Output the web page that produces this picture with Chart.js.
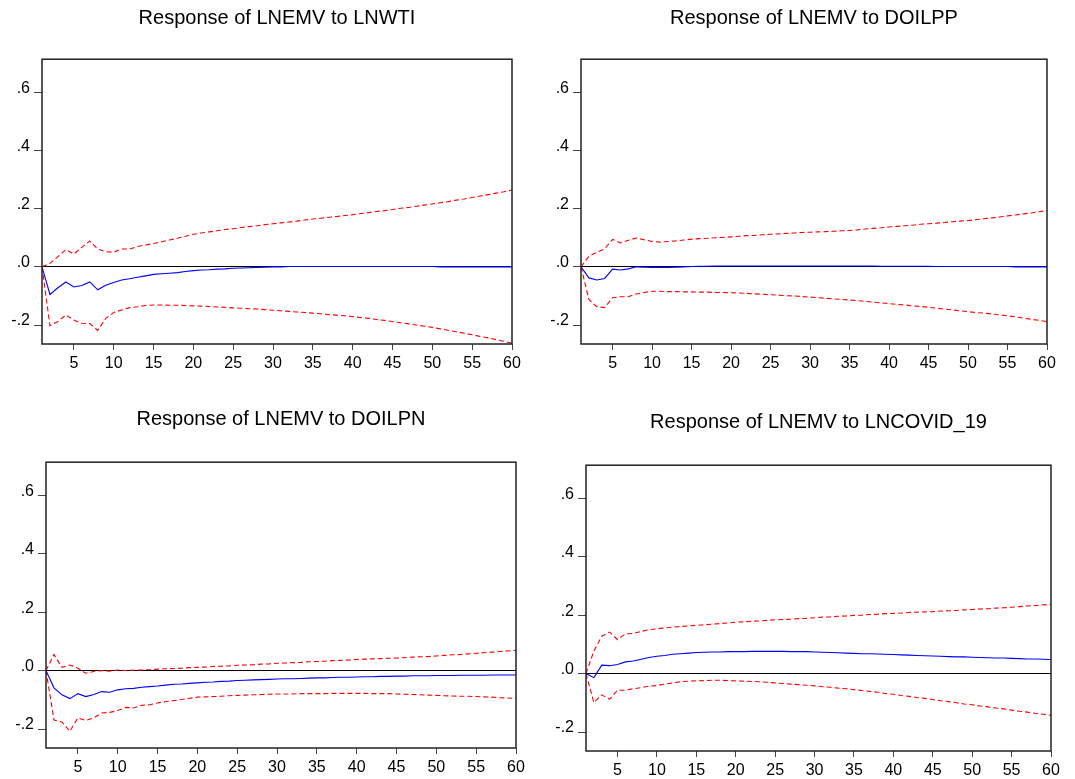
<!DOCTYPE html>
<html>
<head>
<meta charset="utf-8">
<script src="https://cdn.jsdelivr.net/npm/chart.js@4/dist/chart.umd.min.js"></script>
<style>
  html, body { margin: 0; padding: 0; background: #fff; overflow: hidden; }
  body { width: 1075px; height: 779px; position: relative; }
  .panel { position: absolute; }
</style>
</head>
<body>
<div class="panel" id="p0"><canvas id="c0"></canvas></div>
<div class="panel" id="p1"><canvas id="c1"></canvas></div>
<div class="panel" id="p2"><canvas id="c2"></canvas></div>
<div class="panel" id="p3"><canvas id="c3"></canvas></div>
<script>
// periods 1..60 (x axis)
const periods = Array.from({ length: 60 }, (_, i) => i + 1);
const xTicks = [5, 10, 15, 20, 25, 30, 35, 40, 45, 50, 55, 60];
const yTicks = [-0.2, 0, 0.2, 0.4, 0.6];
const yTickLabels = ['-.2', '.0', '.2', '.4', '.6'];

const titles = [
  'Response of LNEMV to LNWTI',
  'Response of LNEMV to DOILPP',
  'Response of LNEMV to DOILPN',
  'Response of LNEMV to LNCOVID_19'
];

// LNWTI
const respWTI = [0, -0.095, -0.072, -0.052, -0.069, -0.064, -0.052, -0.079, -0.063, -0.054,
  -0.045, -0.041, -0.036, -0.031, -0.026, -0.024, -0.022, -0.020, -0.016, -0.013,
  -0.011, -0.010, -0.008, -0.007, -0.005, -0.004, -0.003, -0.002, -0.001, 0.000,
  0.000, 0.001, 0.001, 0.001, 0.001, 0.001, 0.001, 0.001, 0.001, 0.001,
  0.001, 0.001, 0.001, 0.001, 0.001, 0.001, 0.001, 0.001, 0.001, 0.001,
  0.000, 0.000, 0.000, 0.000, 0.000, 0.000, 0.000, 0.000, 0.000, 0.000];
const upperWTI = [0, 0.012, 0.035, 0.059, 0.044, 0.067, 0.089, 0.061, 0.052, 0.050,
  0.061, 0.061, 0.070, 0.075, 0.080, 0.086, 0.092, 0.098, 0.105, 0.112,
  0.116, 0.120, 0.124, 0.128, 0.131, 0.135, 0.138, 0.141, 0.145, 0.148,
  0.151, 0.154, 0.157, 0.161, 0.164, 0.167, 0.170, 0.173, 0.176, 0.179,
  0.183, 0.186, 0.190, 0.193, 0.197, 0.201, 0.204, 0.208, 0.212, 0.216,
  0.220, 0.224, 0.229, 0.233, 0.238, 0.243, 0.248, 0.253, 0.258, 0.264];
const lowerWTI = [0, -0.202, -0.188, -0.165, -0.183, -0.194, -0.195, -0.218, -0.177, -0.157,
  -0.148, -0.140, -0.137, -0.133, -0.131, -0.131, -0.132, -0.132, -0.133, -0.134,
  -0.135, -0.136, -0.138, -0.139, -0.141, -0.142, -0.144, -0.145, -0.147, -0.149,
  -0.151, -0.153, -0.155, -0.157, -0.159, -0.161, -0.164, -0.166, -0.168, -0.171,
  -0.174, -0.177, -0.181, -0.184, -0.188, -0.192, -0.196, -0.200, -0.204, -0.208,
  -0.213, -0.218, -0.223, -0.228, -0.233, -0.239, -0.244, -0.250, -0.256, -0.262];

// DOILPP
const respPP = [0, -0.038, -0.045, -0.040, -0.008, -0.011, -0.007, 0.000, -0.001, -0.002,
  -0.002, -0.002, -0.001, 0.000, 0.001, 0.002, 0.002, 0.003, 0.003, 0.003,
  0.003, 0.003, 0.003, 0.003, 0.003, 0.003, 0.003, 0.003, 0.003, 0.003,
  0.003, 0.003, 0.003, 0.003, 0.003, 0.003, 0.003, 0.003, 0.002, 0.002,
  0.002, 0.002, 0.002, 0.002, 0.002, 0.001, 0.001, 0.001, 0.001, 0.001,
  0.001, 0.001, 0.001, 0.001, 0.001, 0.000, 0.000, 0.000, 0.000, 0.000];
const upperPP = [0, 0.036, 0.050, 0.062, 0.094, 0.082, 0.091, 0.099, 0.093, 0.087,
  0.085, 0.087, 0.089, 0.092, 0.095, 0.097, 0.098, 0.100, 0.101, 0.103,
  0.105, 0.107, 0.108, 0.110, 0.112, 0.113, 0.115, 0.116, 0.118, 0.119,
  0.120, 0.121, 0.122, 0.124, 0.125, 0.127, 0.130, 0.132, 0.134, 0.137,
  0.139, 0.141, 0.143, 0.146, 0.148, 0.150, 0.152, 0.155, 0.157, 0.159,
  0.162, 0.165, 0.168, 0.171, 0.175, 0.178, 0.182, 0.185, 0.189, 0.193];
const lowerPP = [0, -0.112, -0.137, -0.140, -0.106, -0.103, -0.103, -0.093, -0.088, -0.084,
  -0.084, -0.085, -0.085, -0.086, -0.086, -0.087, -0.087, -0.088, -0.088, -0.089,
  -0.090, -0.091, -0.093, -0.094, -0.096, -0.097, -0.099, -0.100, -0.102, -0.104,
  -0.106, -0.108, -0.110, -0.112, -0.114, -0.116, -0.119, -0.121, -0.124, -0.126,
  -0.129, -0.131, -0.134, -0.136, -0.139, -0.142, -0.145, -0.148, -0.151, -0.154,
  -0.157, -0.159, -0.162, -0.165, -0.168, -0.172, -0.176, -0.180, -0.184, -0.188];

// DOILPN
const respPN = [0, -0.059, -0.083, -0.096, -0.079, -0.089, -0.082, -0.072, -0.074, -0.066,
  -0.062, -0.061, -0.057, -0.055, -0.053, -0.050, -0.047, -0.046, -0.044, -0.042,
  -0.040, -0.039, -0.037, -0.036, -0.034, -0.033, -0.032, -0.031, -0.030, -0.029,
  -0.028, -0.028, -0.027, -0.026, -0.025, -0.025, -0.024, -0.023, -0.023, -0.022,
  -0.021, -0.021, -0.020, -0.020, -0.019, -0.019, -0.018, -0.018, -0.018, -0.017,
  -0.017, -0.017, -0.016, -0.016, -0.016, -0.016, -0.015, -0.015, -0.015, -0.015];
const upperPN = [0, 0.055, 0.011, 0.019, 0.008, -0.009, -0.003, 0.000, -0.002, 0.002,
  0.000, 0.001, 0.002, 0.003, 0.005, 0.006, 0.007, 0.008, 0.010, 0.011,
  0.012, 0.014, 0.015, 0.016, 0.018, 0.019, 0.020, 0.022, 0.023, 0.025,
  0.026, 0.027, 0.028, 0.030, 0.031, 0.032, 0.034, 0.035, 0.036, 0.038,
  0.039, 0.040, 0.041, 0.042, 0.043, 0.044, 0.046, 0.047, 0.048, 0.050,
  0.052, 0.054, 0.055, 0.057, 0.059, 0.061, 0.063, 0.065, 0.067, 0.069];
const lowerPN = [0, -0.169, -0.176, -0.208, -0.162, -0.171, -0.162, -0.145, -0.143, -0.137,
  -0.126, -0.128, -0.119, -0.117, -0.111, -0.106, -0.103, -0.099, -0.095, -0.091,
  -0.090, -0.089, -0.088, -0.086, -0.085, -0.084, -0.083, -0.082, -0.081, -0.080,
  -0.080, -0.080, -0.079, -0.079, -0.079, -0.079, -0.078, -0.078, -0.078, -0.078,
  -0.078, -0.079, -0.079, -0.079, -0.080, -0.081, -0.082, -0.083, -0.084, -0.085,
  -0.086, -0.087, -0.088, -0.088, -0.089, -0.090, -0.091, -0.093, -0.094, -0.095];

// LNCOVID_19
const respCOV = [0, -0.014, 0.029, 0.027, 0.031, 0.040, 0.043, 0.049, 0.055, 0.059,
  0.062, 0.066, 0.068, 0.070, 0.072, 0.073, 0.074, 0.074, 0.075, 0.075,
  0.075, 0.076, 0.076, 0.076, 0.076, 0.076, 0.075, 0.075, 0.075, 0.074,
  0.073, 0.072, 0.071, 0.070, 0.069, 0.068, 0.068, 0.067, 0.066, 0.065,
  0.064, 0.063, 0.062, 0.061, 0.060, 0.059, 0.058, 0.057, 0.057, 0.056,
  0.055, 0.054, 0.053, 0.053, 0.052, 0.051, 0.050, 0.050, 0.049, 0.048];
const upperCOV = [0, 0.077, 0.128, 0.142, 0.116, 0.136, 0.137, 0.144, 0.150, 0.153,
  0.156, 0.159, 0.161, 0.163, 0.165, 0.167, 0.169, 0.171, 0.173, 0.176,
  0.177, 0.179, 0.180, 0.182, 0.184, 0.185, 0.186, 0.188, 0.189, 0.191,
  0.193, 0.194, 0.196, 0.197, 0.199, 0.200, 0.202, 0.203, 0.205, 0.206,
  0.207, 0.209, 0.210, 0.211, 0.212, 0.214, 0.215, 0.216, 0.218, 0.219,
  0.221, 0.222, 0.224, 0.225, 0.227, 0.229, 0.231, 0.233, 0.235, 0.237];
const lowerCOV = [0, -0.099, -0.073, -0.088, -0.057, -0.057, -0.052, -0.048, -0.043, -0.041,
  -0.036, -0.032, -0.028, -0.026, -0.025, -0.024, -0.023, -0.023, -0.024, -0.025,
  -0.026, -0.027, -0.028, -0.030, -0.032, -0.034, -0.036, -0.038, -0.040, -0.042,
  -0.045, -0.047, -0.050, -0.052, -0.055, -0.058, -0.061, -0.064, -0.068, -0.071,
  -0.075, -0.078, -0.082, -0.085, -0.089, -0.093, -0.096, -0.100, -0.104, -0.107,
  -0.111, -0.114, -0.118, -0.121, -0.125, -0.129, -0.132, -0.136, -0.139, -0.143];

const responses = [respWTI, respPP, respPN, respCOV];
const uppers = [upperWTI, upperPP, upperPN, upperCOV];
const lowers = [lowerWTI, lowerPP, lowerPN, lowerCOV];

// where each panel sits on the page
const layouts = [
  { left: 0,   top: 0,   w: 526, h: 374, tTop: 6.6,  tBottom: 28.6, xH: 30 },
  { left: 539, top: 0,   w: 522, h: 374, tTop: 6.6,  tBottom: 28.6, xH: 30 },
  { left: 4,   top: 400, w: 526, h: 378, tTop: 7.6,  tBottom: 30.6, xH: 30 },
  { left: 544, top: 400, w: 521, h: 379, tTop: 10.6, tBottom: 30.6, xH: 28 }
];

Chart.defaults.font.family = '"Liberation Sans", Arial, sans-serif';
Chart.defaults.color = '#000';

// box around the plot area
const frame = {
  id: 'frame',
  afterDatasetsDraw(chart) {
    const a = chart.chartArea;
    const c = chart.ctx;
    c.save();
    c.strokeStyle = '#222';
    c.lineWidth = 1.5;
    c.strokeRect(a.left, a.top, a.right - a.left, a.bottom - a.top);
    c.restore();
  }
};

const toXY = (arr) => arr.map((v, i) => ({ x: periods[i], y: v }));

layouts.forEach((L, k) => {
  const div = document.getElementById('p' + k);
  div.style.left = L.left + 'px';
  div.style.top = L.top + 'px';
  const cv = document.getElementById('c' + k);
  cv.width = L.w;
  cv.height = L.h;
  cv.style.width = L.w + 'px';
  cv.style.height = L.h + 'px';

  new Chart(cv.getContext('2d'), {
    type: 'line',
    data: {
      datasets: [
        { data: toXY(responses[k]), borderColor: '#0000ff', borderWidth: 1.1 },
        { data: toXY(uppers[k]), borderColor: '#ff0000', borderWidth: 1.1, borderDash: [5, 3] },
        { data: toXY(lowers[k]), borderColor: '#ff0000', borderWidth: 1.1, borderDash: [5, 3] }
      ]
    },
    options: {
      responsive: false,
      animation: false,
      layout: { padding: { top: 0, right: 14, left: 0, bottom: 0 } },
      elements: { point: { radius: 0 }, line: { tension: 0 } },
      plugins: {
        legend: { display: false },
        tooltip: { enabled: false },
        title: {
          display: true,
          text: titles[k],
          fullSize: false,
          font: { size: 20, weight: 'normal' },
          color: '#000',
          padding: { top: L.tTop, bottom: L.tBottom }
        }
      },
      scales: {
        x: {
          type: 'linear',
          min: 1,
          max: 60,
          afterBuildTicks: (s) => { s.ticks = xTicks.map(v => ({ value: v })); },
          afterFit: (s) => { s.height = L.xH; },
          border: { display: false },
          grid: { drawOnChartArea: false, tickLength: 6, tickColor: '#444' },
          ticks: { font: { size: 16 }, padding: 4, maxRotation: 0, autoSkip: false }
        },
        y: {
          min: -0.265,
          max: 0.713,
          afterBuildTicks: (s) => { s.ticks = yTicks.map(v => ({ value: v })); },
          afterFit: (s) => { s.width = 42; },
          border: { display: false },
          grid: {
            color: (c) => (c.tick && c.tick.value === 0 ? '#000' : 'rgba(0,0,0,0)'),
            tickColor: '#444',
            tickLength: 8
          },
          ticks: {
            font: { size: 16 },
            padding: 4,
            labelOffset: -4,
            callback: (v, i) => yTickLabels[i]
          }
        }
      }
    },
    plugins: [frame]
  });
});
</script>
</body>
</html>
